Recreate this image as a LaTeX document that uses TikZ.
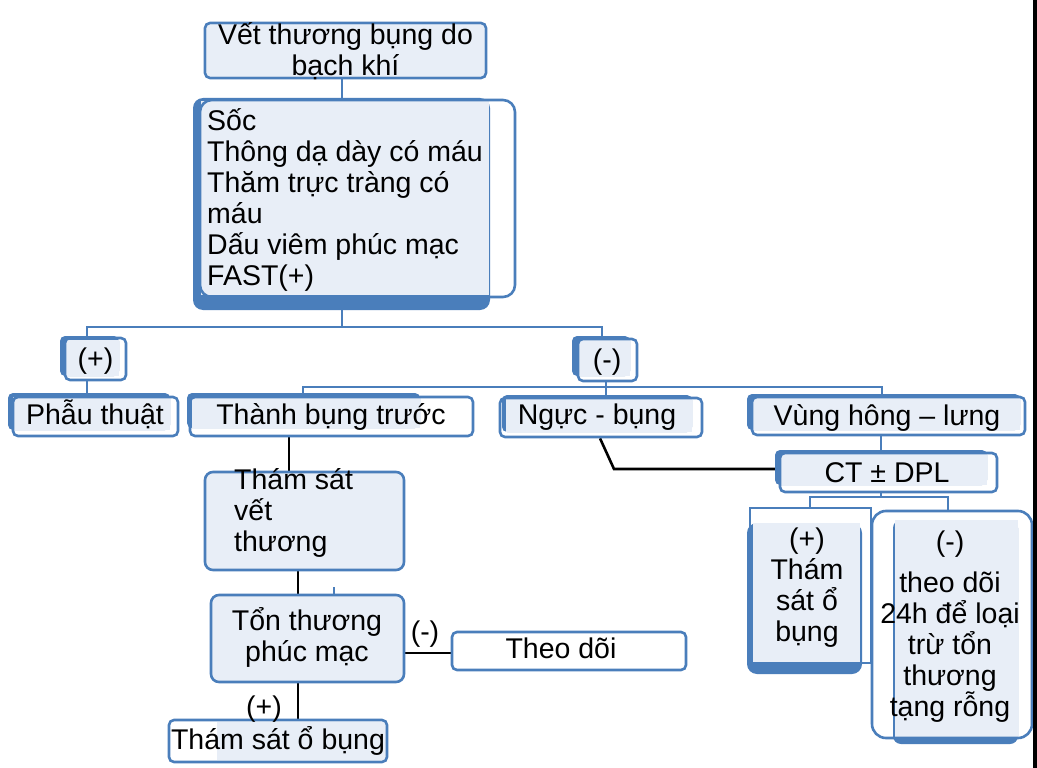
\documentclass[tikz,border=0pt]{standalone}
\usepackage{fontspec}
\setmainfont{Liberation Sans}
\usetikzlibrary{backgrounds}
\definecolor{bblue}{HTML}{4A7EBB}
\definecolor{bfill}{HTML}{E8EEF7}
\begin{document}
\begin{tikzpicture}[x=1pt,y=-1pt,
  obox/.style={draw=bblue, line width=2.6pt, rounded corners=5pt, inner sep=0pt},
  txt/.style={font={\fontsize{28.5}{31}\selectfont\lineskiplimit=-100pt}, inner sep=0pt, anchor=base, align=center, text=black},
  ltxt/.style={txt, anchor=base west, align=left},
  bl/.style={draw=bblue, line width=2.2pt},
  bk/.style={draw=black, line width=2.6pt},
  bkblue/.style={fill=bblue, rounded corners=5pt},
  bkfill/.style={fill=bfill}]
\useasboundingbox (0,0) rectangle (1037,768);

% outline boxes
\node[obox, minimum width=281pt, minimum height=55pt] (t1) at (345.5,50.5) {};
\node[obox, rounded corners=12pt, minimum width=315pt, minimum height=197pt] (s) at (357.5,198.5) {};
\node[obox, minimum width=61pt, minimum height=42pt] (p) at (95.5,359) {};
\node[obox, minimum width=59pt, minimum height=42pt] (m) at (607.5,360) {};
\node[obox, minimum width=165pt, minimum height=39pt] (pt) at (95.5,416.5) {};
\node[obox, minimum width=283pt, minimum height=39pt] (tb) at (331.5,416.5) {};
\node[obox, minimum width=202pt, minimum height=39pt] (nb) at (601,417.5) {};
\node[obox, minimum width=273pt, minimum height=38pt] (vh) at (888.5,416) {};
\node[obox, minimum width=217pt, minimum height=39pt] (ct) at (888.5,472.5) {};
\node[obox, rounded corners=8pt, minimum width=199pt, minimum height=98pt] (ts) at (304.5,521) {};
\node[obox, rounded corners=8pt, minimum width=193pt, minimum height=87pt] (tp) at (307.5,638.5) {};
\node[obox, minimum width=234pt, minimum height=38pt] (td) at (569,651) {};
\node[obox, minimum width=218pt, minimum height=42pt] (to) at (278,741) {};
\node[obox, rounded corners=0pt, line width=2pt, minimum width=121pt, minimum height=155pt] (cp) at (810.5,585.5) {};
\node[obox, rounded corners=14pt, minimum width=160pt, minimum height=227pt] (cm) at (952,624.5) {};

% texts (anchor = baseline of the last line)
\node[txt] (t1t) at (345.5,76) {Vết thương bụng do\\bạch khí};
\node[ltxt] (st) at (207,285) {Sốc\\Thông dạ dày có máu\\Thăm trực tràng có\\máu\\Dấu viêm phúc mạc\\FAST(+)};
\node[txt] (pt1) at (95.5,368) {(+)};
\node[txt] (mt) at (607,369) {(-)};
\node[txt] (ptt) at (95,424) {Phẫu thuật};
\node[txt] (tbt) at (331,424) {Thành bụng trước};
\node[txt] (nbt) at (597,424) {Ngực - bụng};
\node[txt] (vht) at (887,425) {Vùng hông – lưng};
\node[txt] (ctt) at (887,482) {CT ± DPL};
\node[ltxt] (tst) at (234,551) {Thám sát\\vết\\thương};
\node[txt] (tpt) at (307,661) {Tổn thương\\phúc mạc};
\node[txt] (lm) at (425,641) {(-)};
\node[txt] (tdt) at (561,658) {Theo dõi};
\node[txt] (lp) at (264,716) {(+)};
\node[txt] (tot) at (278,749) {Thám sát ổ bụng};
\node[txt] (cpt) at (807,641) {(+)\\Thám\\sát ổ\\bụng};
\node[txt] (cmt) at (950,716) {(-)\\[10pt]theo dõi\\24h để loại\\trừ tổn\\thương\\tạng rỗng};

% junction coordinates
\coordinate (j1) at (342,327);
\coordinate (bL) at (87,327);
\coordinate (bR) at (602,327);
\coordinate (b2) at (606,387);
\coordinate (b2L) at (303,387);
\coordinate (b2R) at (882,387);
\coordinate (b3) at (881,497);
\coordinate (b3L) at (810,497);
\coordinate (b3R) at (948,497);
\coordinate (n1) at (600,0);
\coordinate (n2) at (614,469);
\coordinate (k1) at (289,0);
\coordinate (k2) at (298,0);
\coordinate (k3) at (0,653);
\coordinate (k4) at (334,0);

\begin{pgfonlayer}{background}
\fill[white] (0,0) rectangle (1037,768);
% connectors
\draw[bl] (t1.south -| j1) -- (s.north -| j1);
\draw[bl] (s.south -| j1) -- (j1);
\draw[bl] (p.north -| bL) -- (bL) -- (bR) -- (m.north -| bR);
\draw[bl] (p.south -| bL) -- (pt.north -| bL);
\draw[bl] (m.south -| b2) -- (b2);
\draw[bl] (tb.north -| b2L) -- (b2L) -- (b2R) -- (vh.north -| b2R);
\draw[bl] (b2) -- (nb.north -| b2);
\draw[bl] (vh.south -| b3) -- (ct.north -| b3);
\draw[bl] (ct.south -| b3) -- (b3);
\draw[bl] (cp.north -| b3L) -- (b3L) -- (b3R) -- (cm.north -| b3R);
\draw[bk] (nb.south -| n1) -- (n2) -- (ct.west |- n2);
\draw[bk] (tb.south -| k1) -- (ts.north -| k1);
\draw[bk] (ts.south -| k2) -- (tp.north -| k2);
\draw[bk] (tp.south -| k2) -- (to.north -| k2);
\draw[bk] (tp.east |- k3) -- (td.west |- k3);
\draw[bl] (tp.north -| k4) -- ++(0,-7);
% back fills
\fill[bkfill] (207,25) rectangle (484,76);
\fill[bkblue, rounded corners=10pt] (193,98) rectangle (490,310);
\fill[bkfill] (201,101) rectangle (489,295);
\fill[bkblue] (60,336) rectangle (119,376);
\fill[bkfill] (65,340) rectangle (119,376);
\fill[bkblue] (572,336) rectangle (630,376);
\fill[bkfill] (578,340) rectangle (630,376);
\fill[bkblue] (8,393) rectangle (170,430);
\fill[bkfill] (13,397) rectangle (170,430);
\fill[bkblue] (187,393) rectangle (420,428);
\fill[bkfill] (192,397) rectangle (420,428);
\fill[bkblue] (502,395) rectangle (692,432);
\fill[bkfill] (506,399) rectangle (692,432);
\fill[bkblue] (747,394) rectangle (1020,430);
\fill[bkfill] (752,398) rectangle (1020,430);
\fill[bkblue] (775,450) rectangle (987,485);
\fill[bkfill] (780,454) rectangle (987,485);
\fill[bkblue, rounded corners=10pt] (747,523) rectangle (862,674);
\fill[bkfill] (753,523) rectangle (860,662);
\fill[bkblue, rounded corners=8pt] (893,520) rectangle (1018,744);
\fill[bkfill] (895,520) rectangle (1018,738);
\fill[bkfill] (206,473) rectangle (403,569);
\fill[bkfill] (212,596) rectangle (403,681);
\fill[bkfill] (217,722) rectangle (386,760);
\end{pgfonlayer}

% right edge stripe
\fill[black] (1033,0) rectangle (1037,768);
\end{tikzpicture}
\end{document}
